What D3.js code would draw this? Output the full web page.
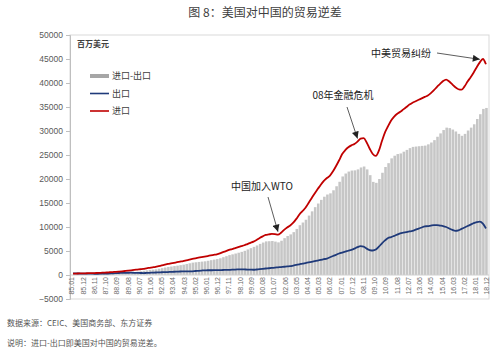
<!DOCTYPE html>
<html>
<head>
<meta charset="utf-8">
<script src="https://cdn.jsdelivr.net/npm/d3@7"></script>
<style>
  body { margin: 0; background: #fff; font-family: "Noto Sans CJK SC", "Noto Sans", sans-serif; }
</style>
</head>
<body>
<div id="chart"></div>
<script>
// quarterly values, million USD, 1985Q1 .. 2018Q4 (one row per year)
var imports = [
  280, 300, 320, 330,
  350, 370, 390, 400,
  430, 460, 490, 525,
  570, 620, 660, 710,
  770, 830, 900, 980,
  1060, 1130, 1200, 1270,
  1400, 1500, 1600, 1700,
  1850, 2000, 2150, 2300,
  2420, 2540, 2660, 2780,
  2900, 3050, 3200, 3350,
  3480, 3600, 3720, 3830,
  3950, 4080, 4200, 4320,
  4500, 4750, 4980, 5220,
  5400, 5600, 5800, 6000,
  6200, 6450, 6700, 6950,
  7300, 7700, 8050, 8350,
  8450, 8550, 8500, 8400,
  8800, 9400, 9900, 10300,
  10900, 11700, 12600, 13300,
  14000, 15000, 16000, 17000,
  17900, 18800, 19600, 20200,
  20700, 21600, 22700, 23900,
  25200, 26000, 26600, 27000,
  27300, 27800, 28400, 28500,
  27600, 26300, 25200, 24800,
  25900, 27900, 29700, 31000,
  32200, 33000, 33600, 34000,
  34500, 35000, 35500, 35900,
  36200, 36500, 36800, 37100,
  37400, 37900, 38500, 39200,
  39800, 40400, 40700, 40300,
  39700, 39100, 38700, 38600,
  39300, 40300, 41200, 42200,
  43300, 44300, 45000, 43900
];

var exports = [
  320, 320, 310, 300,
  290, 280, 270, 260,
  265, 270, 280, 290,
  320, 350, 385, 415,
  430, 450, 470, 480,
  460, 440, 420, 400,
  430, 460, 490, 520,
  540, 570, 590, 620,
  650, 680, 710, 730,
  740, 750, 760, 775,
  830, 880, 930, 980,
  985, 990, 995, 1000,
  1020, 1040, 1060, 1075,
  1100, 1130, 1160, 1180,
  1160, 1130, 1110, 1090,
  1150, 1220, 1290, 1350,
  1410, 1470, 1540, 1600,
  1660, 1720, 1780, 1840,
  1970, 2100, 2230, 2370,
  2490, 2620, 2740, 2870,
  3010, 3150, 3290, 3430,
  3690, 3950, 4210, 4480,
  4670, 4860, 5050, 5240,
  5500, 5800, 6000, 5900,
  5500, 5200, 5100, 5300,
  5900, 6600, 7200, 7700,
  7900, 8150, 8400, 8680,
  8810, 8940, 9070, 9210,
  9440, 9670, 9900, 10140,
  10180, 10300, 10400, 10400,
  10300, 10200, 10000, 9700,
  9400, 9200, 9300, 9600,
  9900, 10200, 10500, 10800,
  11000, 11100, 10700, 9700
];

var deficit = [
  -40, -20, 10, 30,
  60, 90, 120, 140,
  165, 190, 210, 235,
  250, 270, 275, 295,
  340, 380, 430, 500,
  600, 690, 780, 870,
  970, 1040, 1110, 1180,
  1310, 1430, 1560, 1680,
  1770, 1860, 1950, 2050,
  2160, 2300, 2440, 2575,
  2650, 2720, 2790, 2850,
  2965, 3090, 3205, 3320,
  3480, 3710, 3920, 4145,
  4300, 4470, 4640, 4820,
  5040, 5320, 5590, 5860,
  6150, 6480, 6760, 7000,
  7040, 7080, 6960, 6800,
  7140, 7680, 8120, 8460,
  8930, 9600, 10370, 10930,
  11510, 12380, 13260, 14130,
  14890, 15650, 16310, 16770,
  17010, 17650, 18490, 19420,
  20530, 21140, 21550, 21760,
  21800, 22000, 22400, 22600,
  22000, 20800, 19400, 19200,
  20000, 21300, 22500, 23300,
  24300, 24850, 25200, 25320,
  25690, 26060, 26430, 26690,
  26760, 26830, 26900, 26960,
  27220, 27600, 28100, 28800,
  29500, 30200, 30700, 30600,
  30300, 29900, 29400, 29000,
  29400, 30100, 30700, 31400,
  32500, 33500, 34600, 34800
];

var tickLabels = ["85.01","85.12","86.11","87.10","88.09","89.08","90.07","91.06","92.05","93.04",
  "94.03","95.02","96.01","96.12","97.11","98.10","99.09","00.08","01.07","02.06","03.05","04.04",
  "05.03","06.02","07.01","07.12","08.11","09.10","10.09","11.08","12.07","13.06","14.05","15.04",
  "16.03","17.02","18.01","18.12"];

var yTicks = [-5000, 0, 5000, 10000, 15000, 20000, 25000, 30000, 35000, 40000, 45000, 50000];

var seriesNames = ["进口-出口", "出口", "进口"];

var notes = [
  {text: "中国加入WTO", q: 67, tx: 262, ty: 190, from: [268, 197]},
  {text: "08年金融危机", q: 93, tx: 343, ty: 99, from: [347, 107]},
  {text: "中美贸易纠纷", q: 133, tx: 401, ty: 57, from: [437, 53]}
];

var width = 498, height = 354;

// months since 1985.01
function monthIndex(label) {
  var p = label.split(".");
  var yr = +p[0];
  yr = yr < 50 ? 2000 + yr : 1900 + yr;
  return (yr - 1985) * 12 + (+p[1] - 1);
}

var x = d3.scaleLinear().domain([-2, 409]).range([70, 489]);
var y = d3.scaleLinear().domain([-5000, 50000]).range([299, 35]);

var svg = d3.select("#chart").append("svg")
    .attr("width", width)
    .attr("height", height);

svg.append("defs").append("marker")
    .attr("id", "arr")
    .attr("viewBox", "0 0 10 10")
    .attr("refX", 10).attr("refY", 5)
    .attr("markerUnits", "userSpaceOnUse")
    .attr("markerWidth", 8).attr("markerHeight", 7)
    .attr("orient", "auto")
  .append("path")
    .attr("d", "M0,0L10,5L0,10z")
    .attr("fill", "#222");

// title
svg.append("text")
    .attr("x", 265).attr("y", 17)
    .attr("text-anchor", "middle")
    .attr("font-size", 12)
    .attr("fill", "#404040")
    .text("图 8：美国对中国的贸易逆差");

// plot frame
svg.append("rect")
    .attr("x", 70).attr("y", 35)
    .attr("width", 419).attr("height", 264)
    .attr("fill", "none")
    .attr("stroke", "#d9d9d9");

// bars
svg.append("g").selectAll("rect")
    .data(deficit)
  .enter().append("rect")
    .attr("x", function(d, i) { return x(3 * i) + 0.25; })
    .attr("width", x(3) - x(0) - 0.5)
    .attr("y", function(d) { return y(Math.max(d, 0)); })
    .attr("height", function(d) { return Math.abs(y(d) - y(0)); })
    .attr("fill", "#c6c6c6");

// zero line
svg.append("line")
    .attr("x1", 70).attr("x2", 489)
    .attr("y1", y(0)).attr("y2", y(0))
    .attr("stroke", "#d0d0d0");

// y axis
var yAxis = svg.append("g")
    .attr("transform", "translate(70,0)")
    .call(d3.axisLeft(y).tickValues(yTicks).tickSize(4).tickPadding(3).tickFormat(d3.format("d")));
yAxis.select(".domain").attr("stroke", "#bfbfbf");
yAxis.selectAll(".tick line").attr("stroke", "#bfbfbf");
yAxis.selectAll("text")
    .attr("font-size", 8.5)
    .attr("font-family", "Liberation Sans, Arial, sans-serif")
    .attr("fill", "#595959");

// x labels
svg.append("g").selectAll("text")
    .data(tickLabels)
  .enter().append("text")
    .attr("transform", function(d) { return "translate(" + x(monthIndex(d)) + "," + (y(0) + 2) + ")rotate(-90)"; })
    .attr("text-anchor", "end")
    .attr("dy", "0.35em")
    .attr("font-size", 7)
    .attr("font-family", "Liberation Sans, Arial, sans-serif")
    .attr("fill", "#6a6a6a")
    .text(function(d) { return d; });

// lines
var line = d3.line()
    .x(function(d, i) { return x(3 * i + 1); })
    .y(function(d) { return y(d); })
    .curve(d3.curveMonotoneX);

svg.append("path")
    .datum(exports)
    .attr("d", line)
    .attr("fill", "none")
    .attr("stroke", "#1f3a7a")
    .attr("stroke-width", 1.8);

svg.append("path")
    .datum(imports)
    .attr("d", line)
    .attr("fill", "none")
    .attr("stroke", "#c00000")
    .attr("stroke-width", 1.8);

// unit + legend
svg.append("text")
    .attr("x", 77).attr("y", 47)
    .attr("font-size", 8)
    .attr("font-weight", "bold")
    .attr("fill", "#404040")
    .text("百万美元");

var legendColors = ["#a6a6a6", "#1f3a7a", "#c00000"];
var legendWidths = [4, 1.6, 1.6];
var lg = svg.append("g").selectAll("g")
    .data(seriesNames)
  .enter().append("g")
    .attr("transform", function(d, i) { return "translate(90," + (76 + i * 17.5) + ")"; });
lg.append("line")
    .attr("x1", 0).attr("x2", 19)
    .attr("stroke", function(d, i) { return legendColors[i]; })
    .attr("stroke-width", function(d, i) { return legendWidths[i]; });
lg.append("text")
    .attr("x", 22).attr("dy", "0.35em")
    .attr("font-size", 9)
    .attr("fill", "#404040")
    .text(function(d) { return d; });

// annotations
var an = svg.append("g").selectAll("g")
    .data(notes)
  .enter().append("g");
an.append("text")
    .attr("x", function(d) { return d.tx; })
    .attr("y", function(d) { return d.ty; })
    .attr("text-anchor", "middle")
    .attr("font-size", 10)
    .attr("fill", "#222")
    .text(function(d) { return d.text; });
an.append("line")
    .attr("x1", function(d) { return d.from[0]; })
    .attr("y1", function(d) { return d.from[1]; })
    .attr("x2", function(d) { return x(3 * d.q + 1); })
    .attr("y2", function(d) { return y(imports[d.q]) - 3; })
    .attr("stroke", "#333")
    .attr("stroke-width", 0.8)
    .attr("marker-end", "url(#arr)");

// footnotes
svg.append("text")
    .attr("x", 7).attr("y", 326)
    .attr("font-size", 8)
    .attr("fill", "#555")
    .text("数据来源：CEIC、美国商务部、东方证券");
svg.append("text")
    .attr("x", 7).attr("y", 346)
    .attr("font-size", 8)
    .attr("fill", "#555")
    .text("说明：进口-出口即美国对中国的贸易逆差。");
</script>
</body>
</html>
